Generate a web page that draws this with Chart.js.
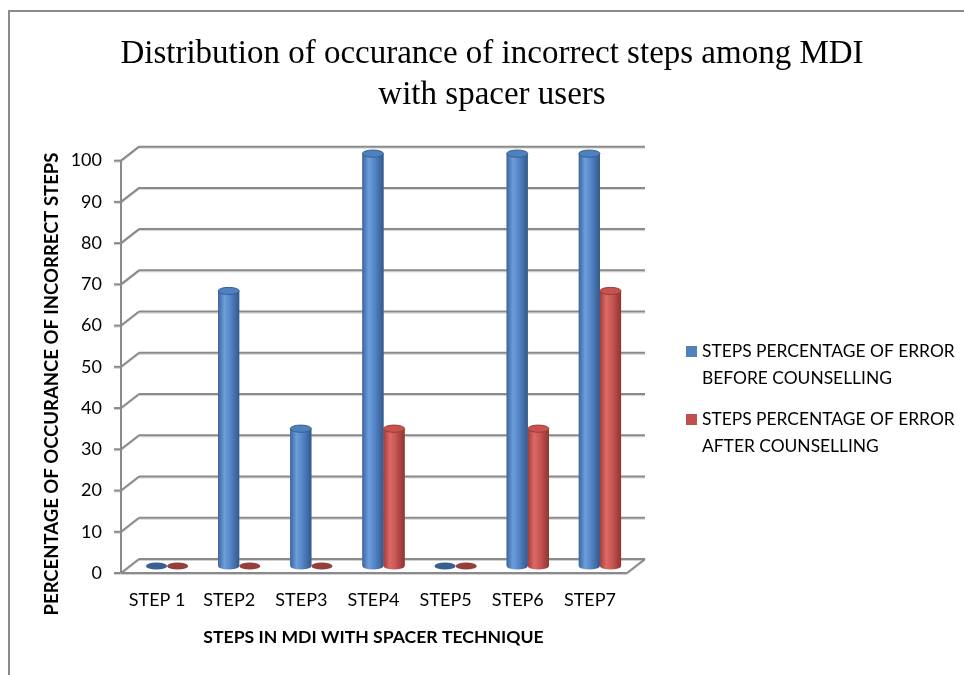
<!DOCTYPE html>
<html lang="en">
<head>
  <meta charset="UTF-8" />
  <title>Incorrect steps among MDI with spacer users</title>
  <script src="https://cdn.jsdelivr.net/npm/chart.js"></script>
  <style>
    body {
      margin: 0;
      background: #fff;
    }
    .wrap {
      width: 964px;
      height: 675px;
      position: relative;
    }
  </style>
</head>
<body>
  <div class="wrap">
    <canvas id="stepsChart"></canvas>
  </div>

  <script>
    const steps = ['STEP 1', 'STEP2', 'STEP3', 'STEP4', 'STEP5', 'STEP6', 'STEP7'];
    const beforeCounselling = [0, 66.7, 33.3, 100, 0, 100, 100];
    const afterCounselling = [0, 0, 0, 33.3, 0, 33.3, 66.7];
    const beforeLabel = ['STEPS PERCENTAGE OF ERROR', 'BEFORE COUNSELLING'];
    const afterLabel = ['STEPS PERCENTAGE OF ERROR', 'AFTER COUNSELLING'];
    const chartTitle = ['Distribution of occurance of incorrect steps among MDI', 'with spacer users'];
    const yTitle = 'PERCENTAGE OF OCCURANCE OF INCORRECT STEPS';
    const xTitle = 'STEPS IN MDI WITH SPACER TECHNIQUE';

    Chart.defaults.font.family = 'Lato';
    Chart.defaults.color = '#000';

    // cylinder shading per series
    const shades = {
      '#4F81BD': { edge: '#3A669E', light: '#6E9DDA', mid: '#5688CA', dark: '#33598C', top: '#4F81C0', rim: '#36608F' },
      '#C0504D': { edge: '#A03E3B', light: '#DC6966', mid: '#CB5855', dark: '#8F3431', top: '#C9524F', rim: '#93403D' }
    };

    // depth offsets of the fake 3D box
    const wallDX = 18, wallDY = -14;
    const barDX = 10, barDY = -7;

    function gridLine(ctx, x1, y1, x2, y2) {
      ctx.strokeStyle = '#d2d2d2';
      ctx.lineWidth = 1;
      ctx.beginPath();
      ctx.moveTo(x1, y1 + 1.5);
      ctx.lineTo(x2, y2 + 1.5);
      ctx.stroke();
      ctx.strokeStyle = '#8a8a8a';
      ctx.lineWidth = 2;
      ctx.beginPath();
      ctx.moveTo(x1, y1);
      ctx.lineTo(x2, y2);
      ctx.stroke();
    }

    function drawCylinder(ctx, x, top, base, w, pal) {
      const l = x - w / 2, r = x + w / 2, ry = 3.6;
      if (base - top < 0.5) {
        ctx.fillStyle = pal.rim;
        ctx.beginPath();
        ctx.ellipse(x, base, w / 2, ry, 0, 0, Math.PI * 2);
        ctx.fill();
        return;
      }
      const g = ctx.createLinearGradient(l, 0, r, 0);
      g.addColorStop(0, pal.edge);
      g.addColorStop(0.3, pal.light);
      g.addColorStop(0.55, pal.mid);
      g.addColorStop(1, pal.dark);
      ctx.fillStyle = g;
      ctx.beginPath();
      ctx.moveTo(l, top);
      ctx.lineTo(l, base);
      ctx.ellipse(x, base, w / 2, ry, 0, Math.PI, 0, true);
      ctx.lineTo(r, top);
      ctx.closePath();
      ctx.fill();
      ctx.fillStyle = pal.top;
      ctx.strokeStyle = pal.rim;
      ctx.lineWidth = 1;
      ctx.beginPath();
      ctx.ellipse(x, top, w / 2, ry, 0, 0, Math.PI * 2);
      ctx.fill();
      ctx.stroke();
    }

    const box3d = {
      id: 'box3d',
      beforeDraw(chart) {
        const ctx = chart.ctx;
        ctx.save();
        ctx.strokeStyle = '#8a8a8a';
        ctx.lineWidth = 2;
        ctx.beginPath();
        ctx.moveTo(964, 11);
        ctx.lineTo(9, 11);
        ctx.lineTo(9, 675);
        ctx.stroke();
        ctx.restore();
      },
      beforeDatasetsDraw(chart) {
        const { ctx, chartArea: a, scales: { y } } = chart;
        ctx.save();
        ctx.lineCap = 'butt';
        // back wall, side wall and tick marks
        y.ticks.forEach(t => {
          const py = y.getPixelForValue(t.value);
          gridLine(ctx, a.left + wallDX, py + wallDY, a.right + wallDX + 1, py + wallDY);
          gridLine(ctx, a.left, py, a.left + wallDX, py + wallDY);
          gridLine(ctx, a.left - 7, py, a.left, py);
        });
        // value axis and floor
        gridLine(ctx, a.left, a.top, a.left, a.bottom);
        gridLine(ctx, a.left, a.bottom, a.right + 1, a.bottom);
        gridLine(ctx, a.right + 1, a.bottom, a.right + wallDX + 1, a.bottom + wallDY);
        ctx.restore();
        // bars stand in the middle of the floor depth
        ctx.save();
        ctx.translate(barDX, barDY);
      },
      afterDatasetsDraw(chart) {
        const ctx = chart.ctx;
        chart.data.datasets.forEach((ds, i) => {
          const pal = shades[ds.backgroundColor];
          chart.getDatasetMeta(i).data.forEach(bar => {
            const p = bar.getProps(['x', 'y', 'base', 'width'], true);
            drawCylinder(ctx, p.x, p.y, p.base, p.width, pal);
          });
        });
        ctx.restore();
      },
      afterDraw(chart) {
        const ctx = chart.ctx;
        ctx.save();
        // value axis title, centred a little below the plot middle
        ctx.translate(52, 384);
        ctx.rotate(-Math.PI / 2);
        ctx.font = 'bold 18.5px Lato';
        ctx.textAlign = 'center';
        ctx.textBaseline = 'middle';
        ctx.fillStyle = '#000';
        ctx.fillText(yTitle, 0, 0);
        ctx.restore();

        // two-line legend on the right
        ctx.save();
        ctx.font = '17.4px Lato';
        ctx.textBaseline = 'middle';
        const rows = [351, 419];
        chart.data.datasets.forEach((ds, i) => {
          const y0 = rows[i];
          ctx.fillStyle = ds.backgroundColor;
          ctx.fillRect(686, y0 - 5, 11, 11);
          ctx.fillStyle = '#000';
          ds.label.forEach((line, k) => ctx.fillText(line, 702, y0 + k * 27));
        });
        ctx.restore();
      }
    };

    new Chart(document.getElementById('stepsChart'), {
      type: 'bar',
      data: {
        labels: steps,
        datasets: [
          { label: beforeLabel, data: beforeCounselling, backgroundColor: '#4F81BD', clip: false },
          { label: afterLabel, data: afterCounselling, backgroundColor: '#C0504D', clip: false }
        ]
      },
      options: {
        responsive: true,
        maintainAspectRatio: false,
        animation: false,
        layout: { padding: { left: 20 } },
        datasets: {
          bar: { categoryPercentage: 0.586, barPercentage: 1 }
        },
        plugins: {
          legend: { display: false },
          tooltip: { enabled: false },
          title: {
            display: true,
            text: chartTitle,
            color: '#000',
            font: { family: 'Liberation Serif', size: 33, weight: 'normal', lineHeight: 1.24 },
            padding: { top: 34, bottom: 44.8 }
          }
        },
        scales: {
          x: {
            grid: { display: false, drawTicks: false },
            border: { display: false },
            ticks: { font: { size: 18 }, padding: 16, maxRotation: 0 },
            title: {
              display: true,
              text: xTitle,
              font: { size: 17.6, weight: 'bold' },
              padding: { bottom: 27 }
            },
            afterFit(s) { s.height = 102; }
          },
          y: {
            min: 0,
            max: 100,
            grid: { display: false, drawTicks: false },
            border: { display: false },
            ticks: { stepSize: 10, font: { size: 18 }, padding: 19 },
            afterFit(s) { s.width = 101; }
          },
          // empty axis that keeps room for the legend
          legendSpace: {
            type: 'linear',
            position: 'right',
            grid: { display: false, drawTicks: false },
            border: { display: false },
            ticks: { display: false },
            afterFit(s) { s.width = 338; }
          }
        }
      },
      plugins: [box3d]
    });
  </script>
</body>
</html>
